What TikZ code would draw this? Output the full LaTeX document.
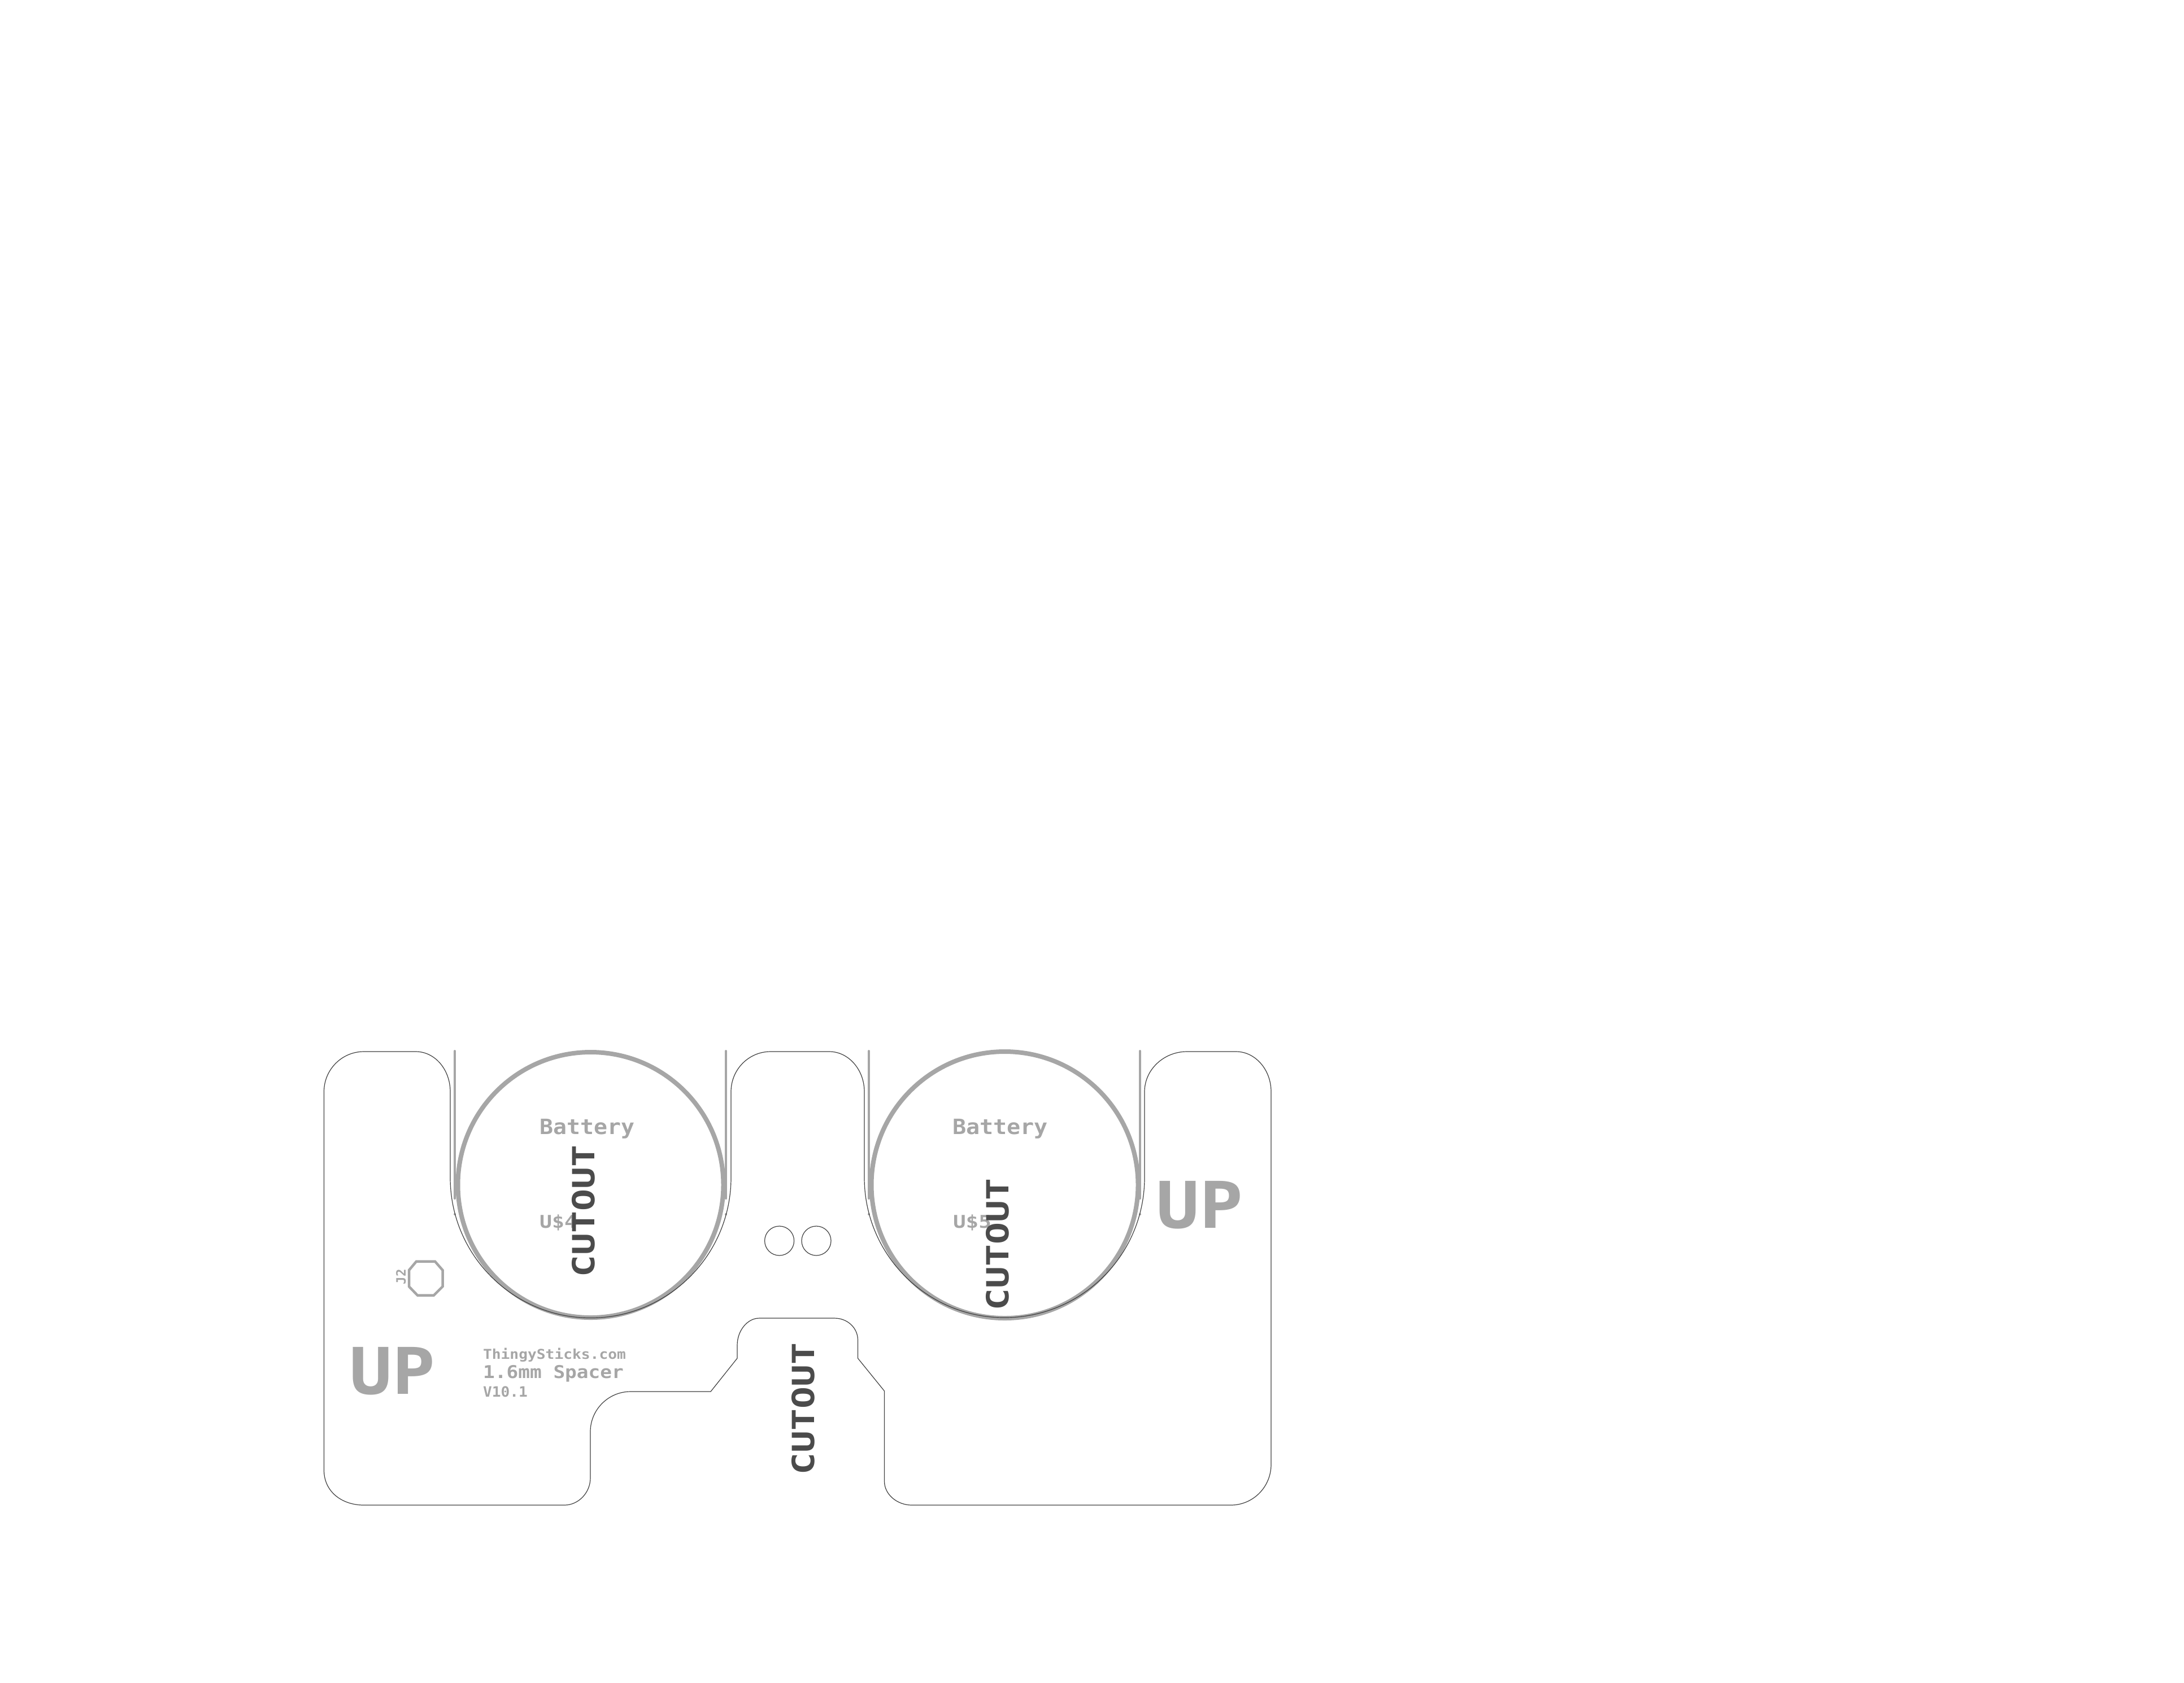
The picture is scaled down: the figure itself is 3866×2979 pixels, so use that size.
\documentclass[tikz,border=0pt]{standalone}
\usepackage{fontspec}
\usepackage{graphicx}
\setmainfont{DejaVu Sans Mono}
\newlength{\pxu}\setlength{\pxu}{0.25pt}
% \vtxtb{cap height px}{width px}{text}: real text set to a measured size and width
\newcommand{\vtxtb}[3]{\fontsize{\dimexpr#1\pxu*875/729\relax}{\dimexpr#1\pxu*1200/729\relax}\selectfont\bfseries\resizebox{#2\pxu}{\height}{#3}}
\definecolor{silk}{HTML}{A6A6A6}
\definecolor{darktext}{HTML}{4B4B4B}
\definecolor{edgeline}{HTML}{404040}
\tikzset{
  outline/.style={draw=edgeline,line width=1.2*\pxu},
  silkring/.style={draw=silk,line width=8*\pxu},
  silkbar/.style={draw=silk,line width=4*\pxu,line cap=round},
  silkoct/.style={draw=silk,line width=4.5*\pxu,line join=miter},
  hole/.style={draw=edgeline,line width=1.2*\pxu},
  lbl/.style={inner sep=0pt,outer sep=0pt,anchor=base west,text=silk},
  cut/.style={inner sep=0pt,outer sep=0pt,anchor=base west,text=darktext,rotate=90},
  dot/.style={fill=silk,draw=none}
}
\begin{document}
\begin{tikzpicture}[x=0.25pt,y=-0.25pt]
\useasboundingbox (0,0) rectangle (3866,2979);
% silk rings and guides
\draw[silkring] (1045.5,2098) circle[radius=235];
\draw[silkring] (1778.5,2098) circle[radius=236];
\draw[silkbar] (805,1861) -- (805,2122);
\draw[silkbar] (1285,1861) -- (1285,2122);
\draw[silkbar] (1538,1861) -- (1538,2122);
\draw[silkbar] (2018,1861) -- (2018,2122);
\foreach \x in {805,1285,1538,2018} \fill[dot] (\x,2150) circle[radius=2];
% board outline
\draw[outline]
  (573.5,1933) .. controls (573.5,1894) and (605,1862) .. (644,1862)
  -- (736,1862) .. controls (770,1862) and (797,1894) .. (797,1933)
  -- (797,2085) arc[start angle=180,end angle=0,radius=248.5]
  -- (1294,1933) .. controls (1294,1894) and (1325,1862) .. (1364,1862)
  -- (1468,1862) .. controls (1502,1862) and (1530,1894) .. (1530,1933)
  -- (1530,2085) arc[start angle=180,end angle=0,radius=248]
  -- (2026,1933) .. controls (2026,1894) and (2060,1862) .. (2101,1862)
  -- (2188,1862) .. controls (2222,1862) and (2250,1894) .. (2250,1933)
  -- (2250,2593) .. controls (2250,2633) and (2218,2665) .. (2178.6,2665)
  -- (1614,2665) .. controls (1588,2665) and (1565.5,2646) .. (1565.5,2623)
  -- (1565.5,2463) -- (1518.5,2405) -- (1518.5,2373)
  .. controls (1518.5,2351) and (1500,2334) .. (1477,2334)
  -- (1344,2334) .. controls (1323,2334) and (1305,2356) .. (1305,2382)
  -- (1305,2405) -- (1258,2464) -- (1116,2464)
  .. controls (1077,2464) and (1045,2496) .. (1045,2535)
  -- (1045,2617) .. controls (1045,2643) and (1024,2665) .. (999,2665)
  -- (644,2665) .. controls (605,2665) and (573.5,2641) .. (573.5,2603)
  -- cycle;
% mounting holes
\draw[hole] (1379.6,2197) circle[radius=26];
\draw[hole] (1445,2197) circle[radius=26];
% J2 pad
\draw[silkoct] (737,2233.5) -- (770,2233.5) -- (783.5,2249) -- (783.5,2278) -- (768,2293.5) -- (739,2293.5) -- (724,2278) -- (724,2249) -- cycle;
% labels
\node[lbl] (batA) at (955,2008) {\vtxtb{31}{168}{Battery}};
\node[lbl] (batB) at (1686,2008) {\vtxtb{31}{169}{Battery}};
\node[lbl] (uA) at (955,2174) {\vtxtb{26}{66}{U\$4}};
\node[lbl] (uB) at (1687,2174) {\vtxtb{26}{68}{U\$5}};
\node[lbl,rotate=90] (jtwo) at (718,2274) {\vtxtb{19}{27}{J2}};
\node[lbl] (upA) at (618,2468) {\vtxtb{95}{152}{UP}};
\node[lbl] (upB) at (2046,2174.5) {\vtxtb{95}{154}{UP}};
\node[lbl] (site) at (855,2406.7) {\vtxtb{20}{253}{ThingySticks.com}};
\node[lbl] (spacer) at (855,2440.7) {\vtxtb{26}{249}{1.6mm Spacer}};
\node[lbl] (ver) at (855,2473) {\vtxtb{21}{79}{V10.1}};
\node[cut] (cutA) at (1052,2261) {\vtxtb{45}{234}{CUTOUT}};
\node[cut] (cutB) at (1785.5,2320) {\vtxtb{45}{234}{CUTOUT}};
\node[cut] (cutC) at (1441,2611) {\vtxtb{45}{234}{CUTOUT}};
\end{tikzpicture}
\end{document}
